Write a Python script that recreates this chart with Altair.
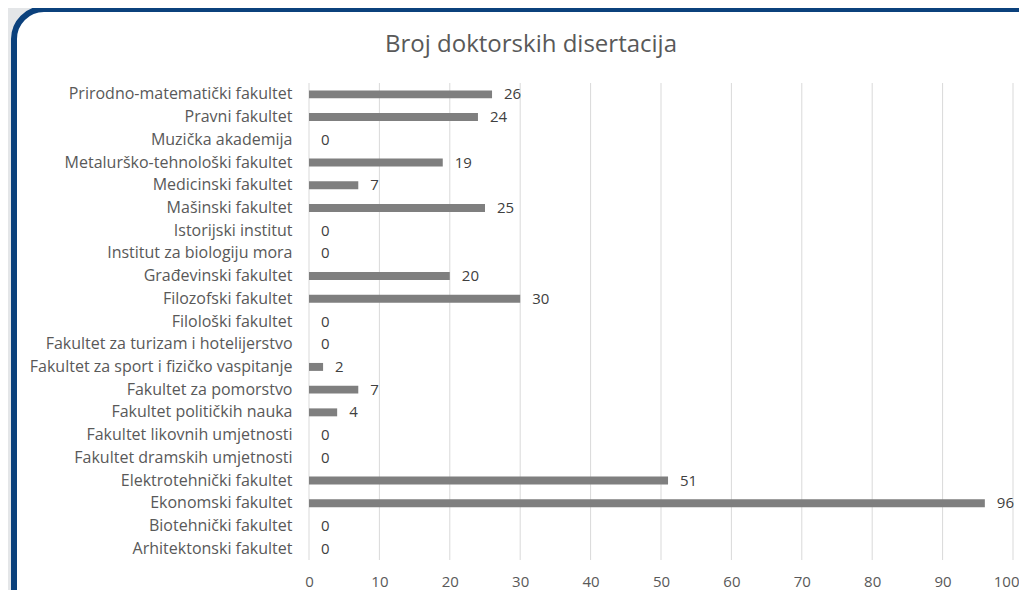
import altair as alt
import pandas as pd

categories = [
    "Prirodno-matematički fakultet",
    "Pravni fakultet",
    "Muzička akademija",
    "Metalurško-tehnološki fakultet",
    "Medicinski fakultet",
    "Mašinski fakultet",
    "Istorijski institut",
    "Institut za biologiju mora",
    "Građevinski fakultet",
    "Filozofski fakultet",
    "Filološki fakultet",
    "Fakultet za turizam i hotelijerstvo",
    "Fakultet za sport i fizičko vaspitanje",
    "Fakultet za pomorstvo",
    "Fakultet političkih nauka",
    "Fakultet likovnih umjetnosti",
    "Fakultet dramskih umjetnosti",
    "Elektrotehnički fakultet",
    "Ekonomski fakultet",
    "Biotehnički fakultet",
    "Arhitektonski fakultet",
]
values = [26, 24, 0, 19, 7, 25, 0, 0, 20, 30, 0, 0, 2, 7, 4, 0, 0, 51, 96, 0, 0]
x_ticks = [0, 10, 20, 30, 40, 50, 60, 70, 80, 90, 100]
title_text = "Broj doktorskih disertacija"

df = pd.DataFrame({"cat": categories, "val": values})
grid_df = pd.DataFrame({"t": x_ticks})

W, H = 704, 477
FONT = "Open Sans"

xscale = alt.Scale(domain=[0, 100], nice=False)
yscale = alt.Scale(paddingInner=0.65, paddingOuter=0.325)

frame = alt.Chart(alt.Data(values=[{}])).mark_rect(
    fill="white", stroke="#0b417c", strokeWidth=6, cornerRadius=30
).encode(
    x=alt.value(-295), x2=alt.value(W + 60),
    y=alt.value(-74), y2=alt.value(H + 60),
)

title = alt.Chart(alt.Data(values=[{"t": title_text}])).mark_text(
    align="center", baseline="alphabetic", fontSize=24, font=FONT, color="#595959"
).encode(
    x=alt.value(222), y=alt.value(-31), text="t:N",
)

grid = alt.Chart(grid_df).mark_rule(color="#d9d9d9", strokeWidth=1).encode(
    x=alt.X("t:Q", scale=xscale),
    y=alt.value(0), y2=alt.value(H),
)

last_tick = "datum.value == 100"

bars = alt.Chart(df).mark_bar(color="#7f7f7f").encode(
    x=alt.X("val:Q", scale=xscale,
            axis=alt.Axis(values=x_ticks, grid=False, domain=False, ticks=False,
                          labelFlush=False, labelOverlap=False,
                          labelAlign={"condition": {"test": last_tick, "value": "right"},
                                      "value": "center"},
                          labelOffset={"condition": {"test": last_tick, "value": 6},
                                       "value": 0},
                          labelPadding=14, labelFontSize=15, labelColor="#595959",
                          labelFont=FONT, title=None, zindex=2)),
    y=alt.Y("cat:N", sort=categories, scale=yscale,
            axis=alt.Axis(grid=False, domain=False, ticks=False, labelPadding=17,
                          labelFontSize=16, labelColor="#595959", labelFont=FONT,
                          labelLimit=400, title=None, zindex=2)),
)

labels = alt.Chart(df).mark_text(
    align="left", baseline="middle", dx=12, fontSize=15, color="#404040", font=FONT
).encode(
    x=alt.X("val:Q", scale=xscale),
    y=alt.Y("cat:N", sort=categories, scale=yscale),
    text=alt.Text("val:Q"),
)

chart = alt.layer(frame, title, grid, bars, labels).properties(
    width=W, height=H,
    autosize=alt.AutoSizeParams(type="none"),
    padding={"left": 301, "top": 75, "right": 6, "bottom": 30},
    background="#e4e6e8",
).configure_view(stroke=None)

chart.save("out.html", embed_options={"renderer": "svg", "actions": False})
